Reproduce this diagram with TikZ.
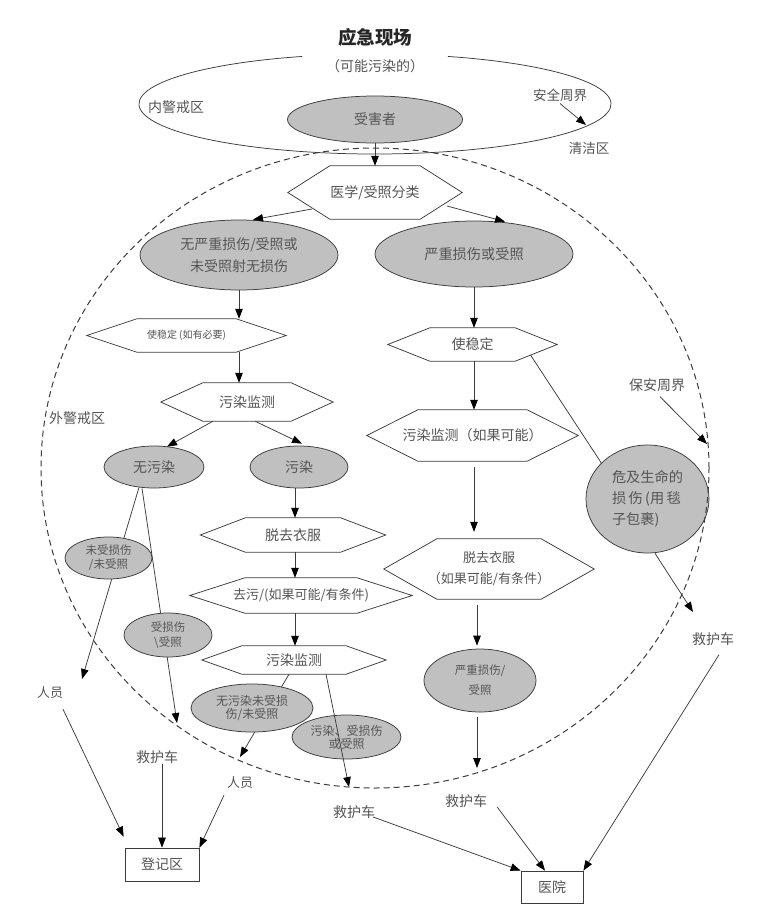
\documentclass[tikz,border=0pt]{standalone}
\usepackage{fontspec}
\setmainfont{Noto Sans CJK SC}
\usetikzlibrary{shapes.geometric,arrows.meta,calc}
\pgfdeclarelayer{bg}
\pgfdeclarelayer{paper}
\pgfsetlayers{paper,bg,main}
\definecolor{fillg}{RGB}{192,192,192}
\definecolor{ln}{RGB}{60,60,60}
\definecolor{tx}{RGB}{85,85,85}
\newcommand\myfs[2]{\fontsize{#1pt}{#2pt}\selectfont}
\newcommand\hexn[8][]{%
  \node[hexbox, minimum width=#5pt, minimum height=#6pt, #1] (#2) at (#3,#4) {#8};
  \draw[hexline] (#2.west) -- ([xshift=#7pt]#2.north west) -- ([xshift=-#7pt]#2.north east) -- (#2.east) -- ([xshift=-#7pt]#2.south east) -- ([xshift=#7pt]#2.south west) -- cycle;}
\tikzset{
  oval/.style={ellipse, draw=ln, fill=fillg, line width=0.75pt, inner sep=0pt, text=tx, align=center},
  hexbox/.style={rectangle, inner sep=0pt, text=tx, align=center, font=\myfs{14}{21}},
  hexline/.style={draw=ln, line width=0.75pt},
  conn/.style={draw=ln, line width=0.75pt},
  arr/.style={conn, -{Triangle[length=10pt,width=7.5pt,color=black]}},
  lbl/.style={text=tx, inner sep=0pt, font=\myfs{14}{14}},
  boxn/.style={rectangle, draw=ln, line width=0.8pt, text=tx, inner sep=0pt, font=\myfs{14}{14}},
}
\begin{document}
\begin{tikzpicture}[x=1pt,y=-1pt]
\begin{pgfonlayer}{paper}
\fill[white] (0,0) rectangle (759,913);
\end{pgfonlayer}
\useasboundingbox (0,0) rectangle (759,913);

% top area
\node[lbl, font=\myfs{18.5}{18.5}\bfseries, text=black!85] (title) at (375,37.5) {应急现场};
\node[lbl] (sub) at (375,66) {（可能污染的）};
\coordinate (ctop) at (375,104);
\draw[conn] ([shift={(108:236pt and 50pt)}]ctop) arc[start angle=108, end angle=432, x radius=236pt, y radius=50pt];
\node[lbl] (inner) at (176,107) {内警戒区};
\node[lbl, font=\myfs{13.5}{13.5}] (safe) at (560,95) {安全周界};
\node[lbl, font=\myfs{13.5}{13.5}] (cleanz) at (589,148) {清洁区};
\coordinate (safetip) at (586,125);
\draw[arr] ([yshift=-2pt]safe.south) -- (safetip);

\node[oval, minimum width=175pt, minimum height=47pt, font=\myfs{14}{14}] (victim) at (375,119.5) {受害者};
\hexn{triage}{375}{192.5}{174}{53}{42}{医学/受照分类}
\draw[arr] (victim.south) -- (triage.north);

\node[oval, minimum width=198pt, minimum height=70pt, font=\myfs{14}{22}] (e1) at (239,255) {无严重损伤/受照或\\未受照射无损伤};
\node[oval, minimum width=198pt, minimum height=66pt, font=\myfs{14.2}{14}] (e2) at (474,254) {严重损伤或受照};
\draw[arr] ($(triage.center)+(-63,16.5)$) -- ($(e1.north)+(14,0)$);
\draw[arr] ($(triage.center)+(72,13.5)$) -- ($(e2.north)+(31,1)$);

% left column
\hexn[font=\myfs{10}{10}]{stab1}{186.5}{335.5}{199}{33}{50}{使稳定 (如有必要)}
\draw[arr] (e1.south) -- (e1.south |- stab1.north);
\hexn{mon1}{247}{402}{172}{38}{42}{污染监测}
\draw[arr] (e1.south |- stab1.south) -- (e1.south |- mon1.north);
\node[lbl] (outer) at (77,418) {外警戒区};
\node[oval, minimum width=100pt, minimum height=42pt, font=\myfs{14}{14}] (noc) at (154,467) {无污染};
\node[oval, minimum width=98pt, minimum height=42pt, font=\myfs{14}{14}] (con) at (299,467) {污染};
\draw[arr] ($(mon1.south)+(-34,0)$) -- ($(noc.north)+(13,1)$);
\draw[arr] ($(mon1.south)+(8,0)$) -- ($(con.north)+(3,-2)$);

% right column
\hexn{stab2}{472.5}{344.5}{169}{33}{42}{使稳定}
\draw[arr] (e2.south) -- (e2.south |- stab2.north);
\hexn{mon2}{472.5}{435.5}{211}{51}{51}{污染监测（如果可能）}
\draw[arr] (e2.south |- stab2.south) -- (e2.south |- mon2.north);
\node[oval, minimum width=123pt, minimum height=108pt, align=left, font=\myfs{14.2}{21}] (life) at (647.5,499) {危及生命的\\损\hspace{2.4pt}伤\hspace{2.4pt}(用\hspace{2.4pt}毯\\子包裹)};
\draw[conn] ($(stab2.center)+(58,10.5)$) -- (life.142);
\node[lbl] (guard) at (657,385) {保安周界};
\coordinate (guardtip) at (707,444);
\draw[arr] ([xshift=3pt,yshift=-5pt]guard.south) -- (guardtip);

\hexn[font=\myfs{13}{21}]{strip2}{489}{569}{210}{60}{53}{脱去衣服\\（如果可能/有条件）}
\coordinate (m2s) at ($(mon2.south)+(1.5,0)$);
\draw[arr, shorten <=6pt, shorten >=7pt] (m2s) -- (m2s |- strip2.north);
\node[oval, minimum width=112pt, minimum height=63pt, font=\myfs{11.5}{20}] (serious) at (480,680.5) {严重损伤/\\受照};
\draw[arr, shorten <=6pt, shorten >=3pt] ($(strip2.south)+(-12,0)$) -- ($(serious.north)+(-3,0)$);
\coordinate (sdown) at (477,768);
\draw[arr, shorten <=5pt] ($(serious.south)+(-3,0)$) -- (sdown);

% left lower
\hexn{strip1}{293}{535}{185}{34}{45}{脱去衣服}
\coordinate (cs) at ($(con.south)+(-4,0)$);
\draw[arr] (cs) -- (cs |- strip1.north);
\hexn[font=\myfs{13}{13}]{decon}{301}{595.5}{222}{35}{55}{去污/(如果可能/有条件)}
\draw[arr] (cs |- strip1.south) -- (cs |- decon.north);
\hexn{mon3}{294}{660}{184}{28}{40}{污染监测}
\draw[arr] (cs |- decon.south) -- (cs |- mon3.north);

\node[oval, minimum width=87pt, minimum height=42pt, font=\myfs{11.5}{14}] (uninj) at (108.5,558) {未受损伤\\/未受照};
\node[oval, minimum width=88pt, minimum height=44pt, font=\myfs{11.5}{15}] (inj) at (168,635) {受损伤\\\textbackslash 受照};
\node[oval, minimum width=122pt, minimum height=48pt, font=\myfs{12}{13}] (cleanv) at (252,708) {无污染未受损\\伤/未受照};
\node[oval, minimum width=109pt, minimum height=44pt, font=\myfs{12}{13}] (dirty) at (346.5,737) {污染、受损伤\\或受照};

% labels and boxes
\node[lbl, font=\myfs{13}{13}] (p1) at (50,693) {人员};
\node[lbl] (amb1) at (157,757) {救护车};
\node[lbl, font=\myfs{13}{13}] (p2) at (240,783) {人员};
\node[lbl] (amb2) at (354,812) {救护车};
\node[lbl] (amb3) at (466,801) {救护车};
\node[lbl] (amb4) at (713,639) {救护车};
\node[boxn, minimum width=74pt, minimum height=33pt] (reg) at (162,864.5) {登记区};
\node[boxn, minimum width=62pt, minimum height=32pt] (hosp) at (552,887) {医院};

\begin{pgfonlayer}{bg}
\coordinate (p1tip) at (82,679);
\draw[arr] ($(noc.south)+(-15,-1)$) -- (p1tip);
\coordinate (injtip) at (177,723);
\draw[arr] ($(noc.south)+(-12,0)$) -- (injtip);
\coordinate (p2tip) at (240,757);
\draw[arr] ($(mon3.south)+(-5,0)$) -- (p2tip);
\end{pgfonlayer}

\coordinate (a2tip) at (349,787);
\draw[arr] ($(mon3.south)+(32,0)$) -- (a2tip);
\coordinate (a4tip) at (693,612);
\draw[arr] ($(life.south)+(7.5,0)$) -- (a4tip);
\draw[arr] ([xshift=6pt,yshift=-9pt]amb4.south) -- (hosp.north east);
\draw[arr] ([xshift=10pt,yshift=-6pt]amb3.east) -- ($(hosp.north)+(-7,0)$);
\draw[arr] ([xshift=-2pt,yshift=-5pt]amb2.east) -- (hosp.north west);
\draw[arr] ($(p1.south)+(13,10)$) -- ($(reg.north west)+(-1,-11)$);
\draw[arr] (reg.north |- amb1.south) -- (reg.north);
\draw[arr] ($(p2.south)+(-16,6)$) -- (reg.north east);

\coordinate (cbig) at (375,468);
\draw[conn, line width=1pt, dash pattern=on 6pt off 4pt] (cbig) ellipse [x radius=334pt, y radius=320pt];
\end{tikzpicture}
\end{document}
